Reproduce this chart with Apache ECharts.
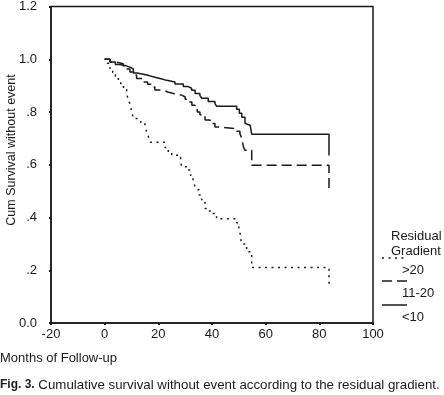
<!DOCTYPE html>
<html>
<head>
<meta charset="utf-8">
<script src="https://cdn.jsdelivr.net/npm/echarts@6/dist/echarts.min.js"></script>
<style>
  html, body { margin: 0; padding: 0; background: #fff; }
  #chart { width: 444px; height: 395px; }
</style>
</head>
<body>
<div id="chart"></div>
<script>
// Kaplan-Meier steps: [month, cumulative survival after the drop]
const lowGradient = [ // <10 (solid)
  [0, 1.0], [2, 0.99], [4, 0.98], [5.7, 0.975], [8, 0.97], [9.4, 0.963], [10.7, 0.948],
  [12, 0.943], [14.4, 0.938], [16.5, 0.932], [18.7, 0.926], [21, 0.92], [23.1, 0.914],
  [26.2, 0.906], [29.3, 0.897], [31, 0.89], [32.4, 0.882], [33.7, 0.87], [35.5, 0.862],
  [36.2, 0.852], [38.6, 0.84], [41.1, 0.832], [41.7, 0.822], [49.2, 0.81], [50.2, 0.795],
  [51.1, 0.78], [52.3, 0.757], [53, 0.75], [54.2, 0.743], [54.8, 0.716], [83.6, 0.635]
];
const midGradient = [ // 11-20 (dashed)
  [0, 1.0], [2, 0.99], [4, 0.983], [6.9, 0.975], [8, 0.963], [9.4, 0.952], [10.5, 0.94],
  [11.9, 0.927], [14.4, 0.914], [16, 0.905], [17.5, 0.895], [18.7, 0.883], [21.9, 0.876],
  [23.5, 0.87], [25.6, 0.864], [28.7, 0.857], [30, 0.848], [31.2, 0.838], [32.5, 0.826],
  [33.7, 0.813], [34.5, 0.8], [35.5, 0.79], [37.4, 0.77], [39.3, 0.756], [41.1, 0.743],
  [42.4, 0.737], [49.2, 0.727], [50.4, 0.718], [51.1, 0.7], [51.7, 0.668], [52.3, 0.655],
  [54.8, 0.598], [83.6, 0.5]
];
const highGradient = [ // >20 (dotted)
  [0, 1.0], [1, 0.985], [2, 0.965], [3, 0.95], [4, 0.935], [5.1, 0.914], [6, 0.9], [7, 0.885],
  [8.2, 0.87], [8.8, 0.845], [9.4, 0.832], [10.1, 0.8], [10.7, 0.775], [12, 0.77], [13.5, 0.76],
  [15, 0.745], [15.5, 0.73], [16, 0.715], [16.5, 0.7], [17, 0.685], [22.5, 0.665], [23.7, 0.645],
  [25, 0.636], [27.4, 0.628], [28.3, 0.61], [28.7, 0.592], [31.2, 0.58], [32, 0.56], [32.9, 0.54],
  [33.6, 0.52], [34.3, 0.505], [35.2, 0.485], [36.2, 0.466], [37.4, 0.434], [38.5, 0.425],
  [39.9, 0.415], [41.7, 0.395], [49.2, 0.38], [50, 0.36], [50.4, 0.345], [51, 0.3], [52.9, 0.27],
  [54.8, 0.21], [83.6, 0.136]
];
const legendLabels = ['>20', '11-20', '<10'];
const xTicks = { min: -20, max: 100, step: 20 };
const yTicks = { min: 0, max: 1.2, step: 0.2 };

const font = '"Liberation Sans", Arial, sans-serif';
const ink = '#1a1a1a';

const chart = echarts.init(document.getElementById('chart'));

// y labels print like the original: 0.0, .2, .4 ... 1.0, 1.2
const yLabel = (v) => {
  const s = v.toFixed(1);
  return (v > 0 && v < 1) ? s.slice(1) : s;
};

const stepLine = (name, data, type) => ({
  name: name,
  type: 'line',
  step: 'end',
  data: data,
  showSymbol: false,
  silent: true,
  lineStyle: { color: ink, width: 1.5, type: type },
});

// legend swatch + label, line drawn above and left of its label
const legendItem = (label, dash, y) => ([
  {
    type: 'line',
    shape: { x1: 382, y1: y, x2: 407, y2: y },
    style: { stroke: ink, lineWidth: 1.5, lineDash: dash },
  },
  {
    type: 'text',
    x: 402, y: y + 12,
    style: { text: label, font: '13px ' + font, fill: ink, textVerticalAlign: 'middle' },
  },
]);

const option = {
  animation: false,
  grid: {
    left: 51, right: 71, top: 6, bottom: 72,
    show: true, borderColor: ink, borderWidth: 1.5,
  },
  xAxis: {
    type: 'value',
    min: xTicks.min, max: xTicks.max, interval: xTicks.step,
    axisLine: { onZero: false, lineStyle: { color: ink, width: 1.5 } },
    axisTick: { length: 2, lineStyle: { color: ink, width: 2 } },
    axisLabel: { color: ink, fontSize: 13, fontFamily: font, margin: 5 },
    splitLine: { show: false },
  },
  yAxis: {
    type: 'value',
    min: yTicks.min, max: yTicks.max, interval: yTicks.step,
    axisLine: { show: true, onZero: false, lineStyle: { color: ink, width: 1.5 } },
    axisTick: { show: true, length: 2, lineStyle: { color: ink, width: 2 } },
    axisLabel: { color: ink, fontSize: 13, fontFamily: font, margin: 14, formatter: yLabel },
    splitLine: { show: false },
  },
  series: [
    stepLine('>20', highGradient, [2, 4.5]),
    stepLine('11-20', midGradient, [10, 5]),
    stepLine('<10', lowGradient, 'solid'),
  ],
  graphic: [
    {
      type: 'text', x: 12, y: 150, rotation: Math.PI / 2,
      style: {
        text: 'Cum Survival without event', font: '12.5px ' + font, fill: ink,
        textAlign: 'center', textVerticalAlign: 'middle',
      },
    },
    {
      type: 'text', x: 0, y: 358,
      style: { text: 'Months of Follow-up', font: '13px ' + font, fill: ink, textVerticalAlign: 'middle' },
    },
    {
      type: 'text', x: 0, y: 385,
      style: {
        text: '{b|Fig. 3.} Cumulative survival without event according to the residual gradient.',
        font: '13.3px ' + font, fill: ink, textVerticalAlign: 'middle',
        rich: { b: { fontWeight: 'bold', font: 'bold 13.3px ' + font, fill: ink } },
      },
    },
    {
      type: 'text', x: 391, y: 236,
      style: { text: 'Residual', font: '13px ' + font, fill: ink, textVerticalAlign: 'middle' },
    },
    {
      type: 'text', x: 391, y: 251,
      style: { text: 'Gradient', font: '13px ' + font, fill: ink, textVerticalAlign: 'middle' },
    },
    ...legendItem(legendLabels[0], [2, 4.5], 258),
    ...legendItem(legendLabels[1], [10, 5], 281),
    ...legendItem(legendLabels[2], null, 305),
  ],
};

chart.setOption(option);
</script>
</body>
</html>
